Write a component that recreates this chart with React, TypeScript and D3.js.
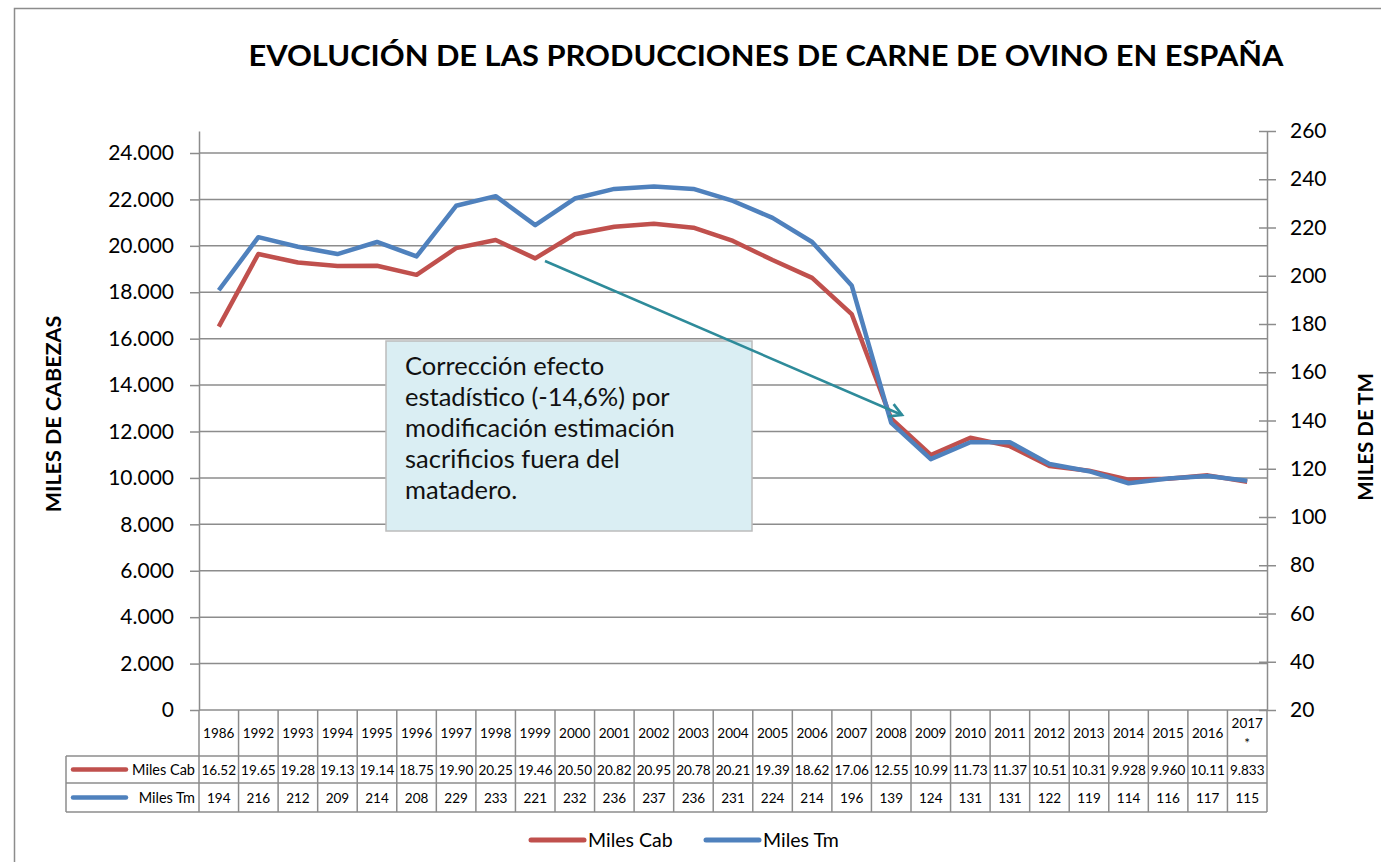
import React, { useEffect, useRef } from "react";
import * as d3 from "d3";

const years = ["1986", "1992", "1993", "1994", "1995", "1996", "1997", "1998", "1999", "2000", "2001", "2002", "2003", "2004", "2005", "2006", "2007", "2008", "2009", "2010", "2011", "2012", "2013", "2014", "2015", "2016", "2017*"];
const milesCab = [16.52, 19.65, 19.28, 19.13, 19.14, 18.75, 19.9, 20.25, 19.46, 20.5, 20.82, 20.95, 20.78, 20.21, 19.39, 18.62, 17.06, 12.55, 10.99, 11.73, 11.37, 10.51, 10.31, 9.928, 9.96, 10.11, 9.833];
const milesTm = [194, 216, 212, 209, 214, 208, 229, 233, 221, 232, 236, 237, 236, 231, 224, 214, 196, 139, 124, 131, 131, 122, 119, 114, 116, 117, 115];
const leftTicks = [0, 2000, 4000, 6000, 8000, 10000, 12000, 14000, 16000, 18000, 20000, 22000, 24000];
const rightTicks = [20, 40, 60, 80, 100, 120, 140, 160, 180, 200, 220, 240, 260];
const seriesNames = ["Miles Cab", "Miles Tm"];
const colors = ["#C0504D", "#4F81BD"];
const noteLines = ["Corrección efecto", "estadístico (-14,6%) por", "modificación estimación", "sacrificios fuera del", "matadero."];

const FONT = "Lato, 'Open Sans', sans-serif";

const App = () => {
  const ref = useRef<SVGSVGElement>(null);

  useEffect(() => {
    const svg = d3.select(ref.current);
    svg.selectAll("*").remove();

    const left = 199, right = 1267, top = 131, bottom = 710;
    const grey = "#8c8c8c";

    const x = d3.scaleBand().domain(years).range([left, right]).padding(0);
    const cx = (d: string) => (x(d) as number) + x.bandwidth() / 2;
    // left axis: 24.000 sits at y=153, plot top is a bit above
    const yL = d3.scaleLinear().domain([0, 24948]).range([bottom, top]);
    const yR = d3.scaleLinear().domain([20, 260]).range([bottom, top]);

    const es = d3.formatLocale({ decimal: ",", thousands: ".", grouping: [3], currency: ["", ""] });
    const fmt = es.format(",");

    // outer frame
    svg.append("rect")
      .attr("x", 14.5).attr("y", 8.5)
      .attr("width", 1400).attr("height", 900)
      .attr("fill", "none").attr("stroke", grey).attr("stroke-width", 1.5);

    svg.append("text")
      .attr("x", 766).attr("y", 66)
      .attr("text-anchor", "middle")
      .attr("textLength", 1035).attr("lengthAdjust", "spacingAndGlyphs")
      .attr("font-family", FONT).attr("font-weight", "bold").attr("font-size", 29)
      .text("EVOLUCIÓN DE LAS PRODUCCIONES DE CARNE DE OVINO EN ESPAÑA");

    // gridlines
    svg.append("g").selectAll("line")
      .data(leftTicks.filter(t => t > 0))
      .enter().append("line")
      .attr("x1", left).attr("x2", right)
      .attr("y1", d => yL(d)).attr("y2", d => yL(d))
      .attr("stroke", grey).attr("stroke-width", 1.5);

    // left axis
    const gl = svg.append("g")
      .attr("transform", `translate(${left},0)`)
      .call(d3.axisLeft(yL).tickValues(leftTicks).tickFormat(d => fmt(d as number)).tickSize(9).tickSizeOuter(0).tickPadding(16));
    gl.select(".domain").attr("stroke", grey).attr("stroke-width", 1.5);
    gl.selectAll(".tick line").attr("stroke", grey).attr("stroke-width", 1.5);
    gl.selectAll(".tick text").attr("font-family", FONT).attr("font-size", 21).attr("fill", "#000");

    // right axis
    const gr = svg.append("g")
      .attr("transform", `translate(${right},0)`)
      .call(d3.axisRight(yR).tickValues(rightTicks).tickSize(9).tickSizeOuter(0).tickPadding(14));
    gr.select(".domain").attr("stroke", grey).attr("stroke-width", 1.5);
    gr.selectAll(".tick line").attr("x1", -8).attr("stroke", grey).attr("stroke-width", 1.5);
    gr.selectAll(".tick text").attr("font-family", FONT).attr("font-size", 21).attr("fill", "#000");

    svg.append("text")
      .attr("transform", "translate(61,414) rotate(-90)")
      .attr("text-anchor", "middle")
      .attr("font-family", FONT).attr("font-weight", "bold").attr("font-size", 21.5)
      .text("MILES DE CABEZAS");
    svg.append("text")
      .attr("transform", "translate(1373,437) rotate(-90)")
      .attr("text-anchor", "middle")
      .attr("font-family", FONT).attr("font-weight", "bold").attr("font-size", 20.5)
      .text("MILES DE TM");

    // series
    const lineL = d3.line<number>().x((_, i) => cx(years[i])).y(d => yL(d * 1000));
    const lineR = d3.line<number>().x((_, i) => cx(years[i])).y(d => yR(d));
    svg.append("path").attr("d", lineL(milesCab))
      .attr("fill", "none").attr("stroke", colors[0]).attr("stroke-width", 4.5).attr("stroke-linejoin", "round");
    svg.append("path").attr("d", lineR(milesTm))
      .attr("fill", "none").attr("stroke", colors[1]).attr("stroke-width", 4.5).attr("stroke-linejoin", "round");

    // annotation
    svg.append("rect")
      .attr("x", 386).attr("y", 341).attr("width", 366).attr("height", 190)
      .attr("fill", "#DAEEF3").attr("stroke", "#bcbcbc").attr("stroke-width", 1.5);
    svg.append("g").selectAll("text")
      .data(noteLines).enter().append("text")
      .attr("x", 405).attr("y", (_, i) => 375 + i * 31)
      .attr("font-family", FONT).attr("font-size", 25.5).attr("fill", "#111")
      .text(d => d);

    const teal = "#2E8B9A";
    svg.append("defs").append("marker")
      .attr("id", "arr").attr("viewBox", "0 0 12 12")
      .attr("refX", 10).attr("refY", 6)
      .attr("markerWidth", 16).attr("markerHeight", 16)
      .attr("markerUnits", "userSpaceOnUse")
      .attr("orient", "auto")
      .append("path").attr("d", "M1,1 L10,6 L1,11")
      .attr("fill", "none").attr("stroke", teal).attr("stroke-width", 2);
    svg.append("line")
      .attr("x1", 545).attr("y1", 261).attr("x2", 902).attr("y2", 415)
      .attr("stroke", teal).attr("stroke-width", 2.5)
      .attr("marker-end", "url(#arr)");

    // data table
    const rowY = [bottom, 756, 783, 812];
    const tbl = svg.append("g");
    const colEdges = years.map(d => x(d) as number).concat([right]);
    tbl.selectAll(".v").data(colEdges).enter().append("line")
      .attr("x1", d => d).attr("x2", d => d)
      .attr("y1", bottom).attr("y2", rowY[3])
      .attr("stroke", grey).attr("stroke-width", 1.5);
    tbl.append("line").attr("x1", 66).attr("x2", 66).attr("y1", rowY[1]).attr("y2", rowY[3])
      .attr("stroke", grey).attr("stroke-width", 1.5);
    [1, 2, 3].forEach(r => {
      tbl.append("line").attr("x1", 66).attr("x2", right).attr("y1", rowY[r]).attr("y2", rowY[r])
        .attr("stroke", grey).attr("stroke-width", 1.5);
    });
    tbl.append("line").attr("x1", left).attr("x2", right).attr("y1", bottom).attr("y2", bottom)
      .attr("stroke", grey).attr("stroke-width", 1.5);

    years.forEach(yr => {
      const star = yr.endsWith("*");
      const label = star ? yr.slice(0, -1) : yr;
      tbl.append("text")
        .attr("x", cx(yr)).attr("y", star ? 728 : 738)
        .attr("text-anchor", "middle")
        .attr("font-family", FONT).attr("font-size", 13.5)
        .text(label);
      if (star) {
        tbl.append("text")
          .attr("x", cx(yr)).attr("y", 748)
          .attr("text-anchor", "middle")
          .attr("font-family", FONT).attr("font-size", 13.5)
          .text("*");
      }
    });

    const cabFmt = (v: number) => (v >= 10 ? v.toFixed(2) : v.toFixed(3));
    const rows = [milesCab.map(cabFmt), milesTm.map(String)];
    rows.forEach((vals, r) => {
      const ty = (rowY[r + 1] + rowY[r + 2]) / 2 + 5;
      tbl.append("line")
        .attr("x1", 73).attr("x2", 126).attr("y1", ty - 5).attr("y2", ty - 5)
        .attr("stroke", colors[r]).attr("stroke-width", 4.5).attr("stroke-linecap", "round");
      tbl.append("text")
        .attr("x", 195).attr("y", ty)
        .attr("text-anchor", "end")
        .attr("font-family", FONT).attr("font-size", 14.5)
        .text(seriesNames[r]);
      vals.forEach((v, i) => {
        tbl.append("text")
          .attr("x", cx(years[i])).attr("y", ty)
          .attr("text-anchor", "middle")
          .attr("font-family", FONT).attr("font-size", 13.5)
          .text(v);
      });
    });

    // legend
    const legX = [531, 706];
    seriesNames.forEach((name, i) => {
      svg.append("line")
        .attr("x1", legX[i]).attr("x2", legX[i] + 53).attr("y1", 840).attr("y2", 840)
        .attr("stroke", colors[i]).attr("stroke-width", 5).attr("stroke-linecap", "round");
      svg.append("text")
        .attr("x", legX[i] + 57).attr("y", 847)
        .attr("font-family", FONT).attr("font-size", 19.5)
        .text(name);
    });
  }, []);

  return (
    <svg ref={ref} width={1381} height={862}
      style={{ position: "absolute", left: 0, top: 0, background: "#fff" }} />
  );
};

export default App;
